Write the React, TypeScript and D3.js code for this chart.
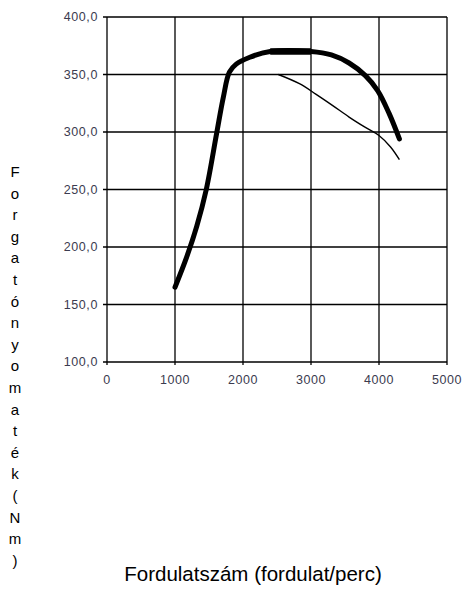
import React from "react";
import * as d3 from "d3";

const W = 466;
const H = 596;

const xTicks = [0, 1000, 2000, 3000, 4000, 5000];
const yTicks = [100, 150, 200, 250, 300, 350, 400];

// Main torque curve (thick)
const torqueX = [1000, 1170, 1320, 1460, 1610, 1710, 1800, 1900, 2100, 2400, 3000, 3300, 3560, 3800, 3980, 4150, 4300];
const torqueY = [165, 191, 218, 250, 298, 330, 352, 359, 365, 370, 370, 367, 360, 349, 336, 316, 294];

// Secondary curve (thin)
const secondX = [2520, 2830, 3070, 3320, 3560, 3800, 4000, 4170, 4300];
const secondY = [350, 342, 333, 323, 313, 304, 297, 287, 276];

// Plateau segment drawn heavier
const plateauX = [2400, 3000];
const plateauY = [370, 370];

const yTitle = "Forgatónyomaték(Nm)";
const xTitle = "Fordulatszám (fordulat/perc)";

const fmt = (v: number) => v.toFixed(1).replace(".", ",");

export default function App() {
  const x = d3.scaleLinear().domain([0, 5000]).range([107, 447]);
  const y = d3.scaleLinear().domain([100, 400]).range([362, 17]);

  const line = d3
    .line<[number, number]>()
    .x((d) => x(d[0]))
    .y((d) => y(d[1]))
    .curve(d3.curveCatmullRom.alpha(0.5));

  const torque = torqueX.map((v, i) => [v, torqueY[i]] as [number, number]);
  const second = secondX.map((v, i) => [v, secondY[i]] as [number, number]);
  const plateau = plateauX.map((v, i) => [v, plateauY[i]] as [number, number]);

  const font = "Arial, 'Liberation Sans', sans-serif";

  return (
    <svg
      width={W}
      height={H}
      style={{ position: "absolute", left: 0, top: 0, background: "#fff" }}
    >
      {/* grid */}
      {xTicks.map((t) => (
        <line key={"gx" + t} x1={x(t)} x2={x(t)} y1={y(400)} y2={y(100) + 3} stroke="#000" strokeWidth={1.3} />
      ))}
      {yTicks.map((t) => (
        <line key={"gy" + t} x1={x(0) - 4} x2={x(5000)} y1={y(t)} y2={y(t)} stroke="#000" strokeWidth={1.3} />
      ))}
      {/* tick labels */}
      {yTicks.map((t) => (
        <text key={"ly" + t} x={x(0) - 9} y={y(t) + 4} textAnchor="end" fontFamily={font} fontSize={12.5} fill="#3b3b4f" letterSpacing={0.6}>
          {fmt(t)}
        </text>
      ))}
      {xTicks.map((t) => (
        <text key={"lx" + t} x={x(t)} y={y(100) + 22} textAnchor="middle" fontFamily={font} fontSize={12.5} fill="#3b3b4f" letterSpacing={0.6}>
          {t}
        </text>
      ))}
      {/* curves */}
      <path d={line(second) || ""} fill="none" stroke="#000" strokeWidth={1.4} />
      <path d={line(torque) || ""} fill="none" stroke="#000" strokeWidth={5} strokeLinejoin="round" strokeLinecap="round" />
      <path d={line(plateau) || ""} fill="none" stroke="#000" strokeWidth={6.5} />
      {/* y title, stacked letters */}
      {yTitle.split("").map((c, i) => (
        <text key={"yt" + i} x={15} y={177 + i * 21.6} textAnchor="middle" fontFamily={font} fontSize={15} fill="#000">
          {c}
        </text>
      ))}
      <text x={253} y={581} textAnchor="middle" fontFamily={font} fontSize={20.5} fill="#000">
        {xTitle}
      </text>
    </svg>
  );
}
